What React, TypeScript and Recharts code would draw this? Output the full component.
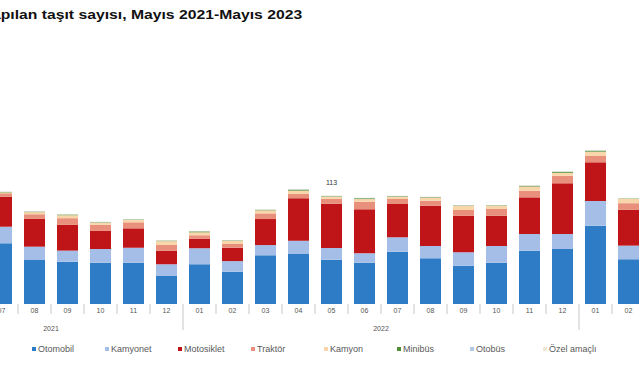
import React from 'react';
import { BarChart, Bar, XAxis, YAxis, Legend, LabelList } from 'recharts';

// Monthly vehicle registrations (thousands), by vehicle type
const MONTHS = ['07', '08', '09', '10', '11', '12', '01', '02', '03', '04', '05', '06', '07', '08', '09', '10', '11', '12', '01', '02'];
const YEARS = ['2021', '2021', '2021', '2021', '2021', '2021', '2022', '2022', '2022', '2022', '2022', '2022', '2022', '2022', '2022', '2022', '2022', '2022', '2023', '2023'];

const otomobil = [63.2, 45.8, 44.1, 43.0, 43.0, 29.2, 41.4, 33.6, 50.7, 52.1, 46.1, 43.0, 54.5, 47.6, 39.9, 43.0, 55.5, 57.3, 81.6, 46.6];
const kamyonet = [17.3, 13.9, 11.5, 14.3, 15.6, 12.2, 16.7, 11.1, 10.7, 13.9, 12.2, 9.8, 15.0, 12.8, 14.0, 17.4, 17.4, 15.6, 25.7, 14.2];
const motosiklet = [31.3, 28.9, 26.8, 18.8, 20.2, 14.2, 10.0, 13.9, 27.1, 44.2, 46.1, 45.8, 34.7, 42.0, 38.1, 31.6, 38.2, 52.8, 40.3, 37.2];
const traktor = [3.5, 4.9, 7.0, 6.3, 6.3, 5.9, 3.5, 3.9, 5.9, 4.5, 5.2, 7.9, 5.2, 5.2, 5.9, 7.0, 6.9, 7.9, 6.6, 7.0];
const kamyon = [1.0, 2.2, 3.1, 2.4, 2.4, 4.0, 3.1, 3.2, 3.2, 3.4, 2.4, 2.8, 2.4, 3.2, 4.2, 3.2, 4.4, 3.1, 4.5, 4.5];
const minibus = [0.4, 0.5, 0.6, 0.4, 0.5, 0.5, 0.9, 0.5, 0.5, 1.0, 0.4, 0.8, 0.5, 0.5, 0.5, 0.5, 0.7, 1.0, 1.0, 0.4];
const otobus = [0.2, 0.3, 0.2, 0.3, 0.2, 0.3, 0.2, 0.2, 0.2, 0.4, 0.3, 0.3, 0.2, 0.2, 0.2, 0.2, 0.3, 0.4, 0.4, 0.1];
const ozel = [0.3, 0.4, 0.2, 0.3, 0.3, 0.4, 0.3, 0.3, 0.3, 0.4, 0.3, 0.3, 0.3, 0.3, 0.3, 0.3, 0.5, 0.4, 0.4, 0.2];

// months whose total is written above the bar
const LABELLED = ['2022-05'];
// year caption sits on the boundary right after this month
const YEAR_CAPTION_AFTER: Record<string, string> = { '2021': '08', '2022': '06' };

const SERIES = [
  { key: 'otomobil', name: 'Otomobil', color: '#2E7CC6', values: otomobil },
  { key: 'kamyonet', name: 'Kamyonet', color: '#A4BEE7', values: kamyonet },
  { key: 'motosiklet', name: 'Motosiklet', color: '#BF1519', values: motosiklet },
  { key: 'traktor', name: 'Traktör', color: '#E8907B', values: traktor },
  { key: 'kamyon', name: 'Kamyon', color: '#F8D6A9', values: kamyon },
  { key: 'minibus', name: 'Minibüs', color: '#4F8F34', values: minibus },
  { key: 'otobus', name: 'Otobüs', color: '#B5C8E6', values: otobus },
  { key: 'ozel', name: 'Özel amaçlı', color: '#F1E6D6', values: ozel },
];

const data = MONTHS.map((m, i) => {
  const row: Record<string, any> = { id: `${YEARS[i]}-${m}`, month: m, year: YEARS[i] };
  let total = 0;
  SERIES.forEach((s) => {
    row[s.key] = s.values[i];
    total += s.values[i];
  });
  row.note = LABELLED.includes(row.id) ? Math.round(total) : null;
  return row;
});

const CHART_W = 660;
const BAND = CHART_W / MONTHS.length;
const FONT = '"Liberation Sans", Arial, sans-serif';

const MonthTick = (props: any) => {
  const { x, y, index } = props;
  const row = data[index];
  if (!row) return null;
  const left = x - BAND / 2;
  const yearStart = index > 0 && data[index - 1].year !== row.year;
  const showYear = YEAR_CAPTION_AFTER[row.year] === row.month;
  return (
    <g>
      <line x1={left} x2={left} y1={y} y2={yearStart ? y + 26 : y + 10} stroke="#c8c8c8" strokeWidth={1} />
      <text x={x} y={y + 9} textAnchor="middle" fontSize={7} fill="#555" fontFamily={FONT}>
        {row.month}
      </text>
      {showYear && (
        <text x={x + BAND / 2} y={y + 27} textAnchor="middle" fontSize={7} fill="#555" fontFamily={FONT}>
          {row.year}
        </text>
      )}
    </g>
  );
};

const TotalLabel = (props: any) => {
  const { x, y, width, value } = props;
  if (value == null) return null;
  return (
    <text x={x + width / 2} y={y - 11} textAnchor="middle" fontSize={7} fill="#333" fontFamily={FONT}>
      {value}
    </text>
  );
};

// legend keeps the stacking order of the series
const LegendRow = (props: any) => {
  const items = [...(props.payload || [])].sort(
    (a: any, b: any) => SERIES.findIndex((s) => s.name === a.value) - SERIES.findIndex((s) => s.name === b.value),
  );
  return (
    <div style={{ height: 24, display: 'flex', paddingLeft: 47, fontFamily: FONT, fontSize: 9, color: '#595959', lineHeight: '10px' }}>
      {items.map((p: any) => (
        <div key={p.value} style={{ width: 73, height: 10, display: 'flex', alignItems: 'center', whiteSpace: 'nowrap' }}>
          <span style={{ width: 4, height: 4, background: p.color, marginRight: 2, display: 'inline-block' }} />
          {p.value}
        </div>
      ))}
    </div>
  );
};

export default function App() {
  return (
    <div style={{ position: 'fixed', left: 0, top: 0, width: 641, height: 380, overflow: 'hidden', background: '#fff' }}>
      <div
        style={{
          position: 'absolute', right: 339, top: 8, whiteSpace: 'nowrap',
          fontFamily: FONT, fontWeight: 700, fontSize: 12, color: '#111',
          transform: 'scaleX(1.31)', transformOrigin: 'right center',
        }}
      >
        Trafiğe kaydı yapılan taşıt sayısı, Mayıs 2021-Mayıs 2023
      </div>
      <div style={{ position: 'absolute', left: -15, top: 0 }}>
        <BarChart width={CHART_W} height={380} data={data} margin={{ top: 112, right: 0, left: 0, bottom: 12 }}>
          <XAxis
            dataKey="id"
            axisLine={false}
            tickLine={false}
            tickSize={0}
            tickMargin={0}
            interval={0}
            height={40}
            tick={<MonthTick />}
          />
          <YAxis hide domain={[0, 200]} />
          <Legend verticalAlign="bottom" height={24} content={<LegendRow />} />
          {SERIES.map((s, i) => (
            <Bar key={s.key} dataKey={s.key} name={s.name} stackId="a" fill={s.color} barSize={21} isAnimationActive={false}>
              {i === SERIES.length - 1 && <LabelList dataKey="note" content={<TotalLabel />} />}
            </Bar>
          ))}
        </BarChart>
      </div>
    </div>
  );
}
